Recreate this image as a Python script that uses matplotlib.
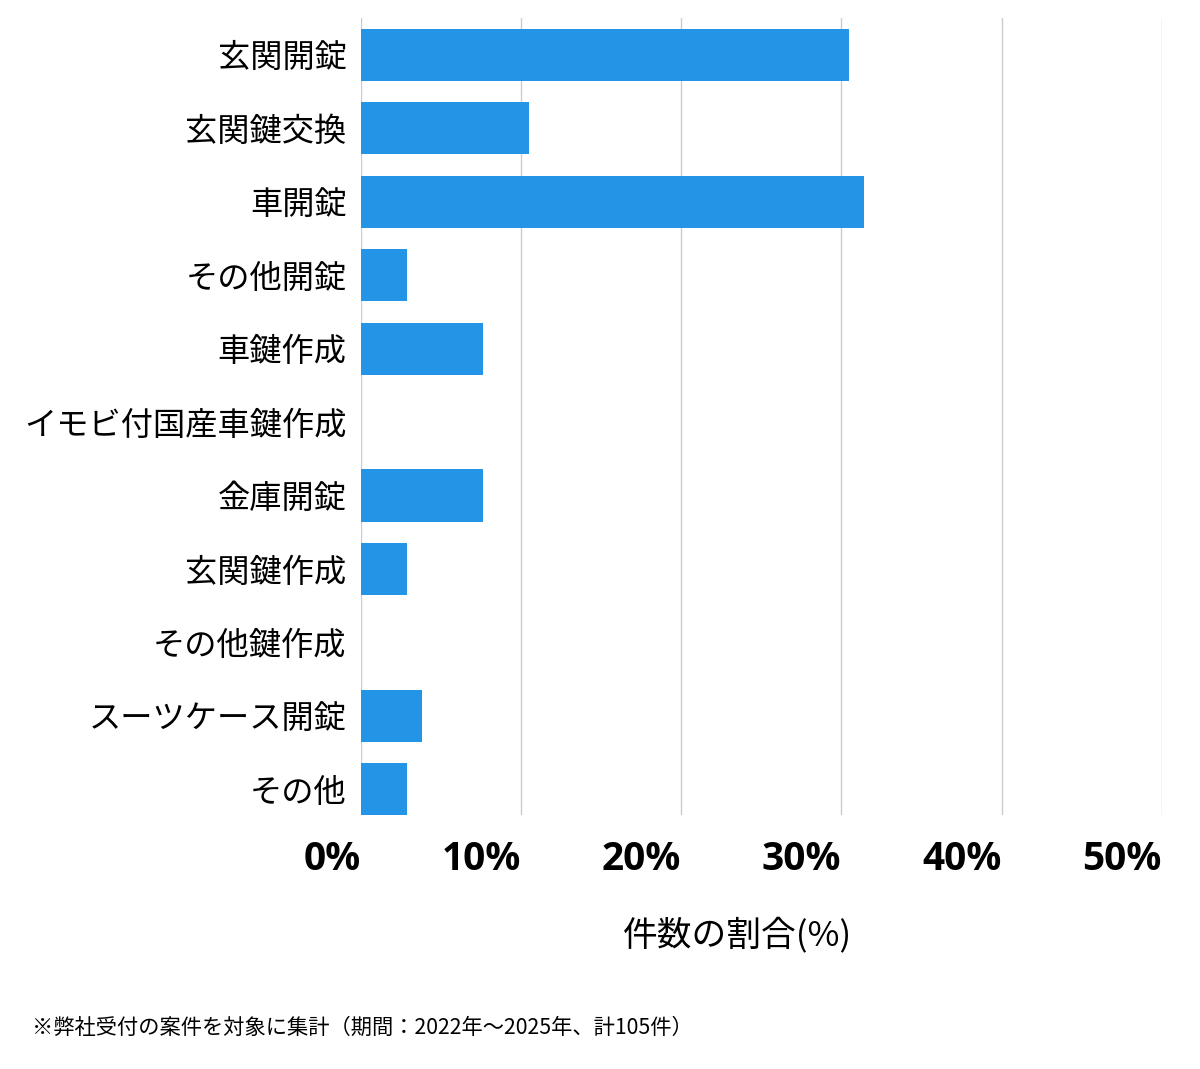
import matplotlib.pyplot as plt
from matplotlib.ticker import FuncFormatter

plt.rcParams['font.family'] = ['Noto Sans CJK JP', 'DejaVu Sans']

categories = ["玄関開錠", "玄関鍵交換", "車開錠", "その他開錠", "車鍵作成",
              "イモビ付国産車鍵作成", "金庫開錠", "玄関鍵作成", "その他鍵作成",
              "スーツケース開錠", "その他"]
counts = [32, 11, 33, 3, 8, 0, 8, 3, 0, 4, 3]
total = 105
shares = [c / total * 100 for c in counts]
xticks = [0, 10, 20, 30, 40, 50]

fig = plt.figure(figsize=(12, 10.69), dpi=100)
ax = fig.add_axes([0.301, 0.2376, 0.667, 0.7454])

ypos = list(range(len(categories)))
ax.barh(ypos, shares, height=0.71, color='#2494E6', zorder=3)

ax.set_xlim(0, 50)
ax.set_ylim(10.35, -0.5)
ax.set_xticks(xticks)
ax.xaxis.set_major_formatter(FuncFormatter(lambda v, p: f"{v:.0f}%"))
ax.set_yticks(ypos)
ax.set_yticklabels(categories, fontsize=23.2)
for lbl in ax.get_yticklabels():
    lbl.set_va('center_baseline')
for lbl in ax.get_xticklabels():
    lbl.set_horizontalalignment('right')
    lbl.set_fontsize(28)
    lbl.set_fontweight('bold')
    lbl.set_family(['Open Sans', 'DejaVu Sans'])
ax.tick_params(axis='x', length=0, pad=18)
ax.tick_params(axis='y', length=0, pad=10.5)
ax.grid(axis='x', color='#cccccc', linewidth=1, zorder=0)
for s in ax.spines.values():
    s.set_visible(False)

fig.text(738 / 1200, 1 - 935 / 1069, "件数の割合(%)", fontsize=25,
         ha='center', va='center')
fig.text(32 / 1200, 1 - 1028 / 1069,
         "※弊社受付の案件を対象に集計（期間：2022年～2025年、計105件）",
         fontsize=15.3, ha='left', va='center')

fig.savefig("out.png", dpi=100, facecolor='white')
